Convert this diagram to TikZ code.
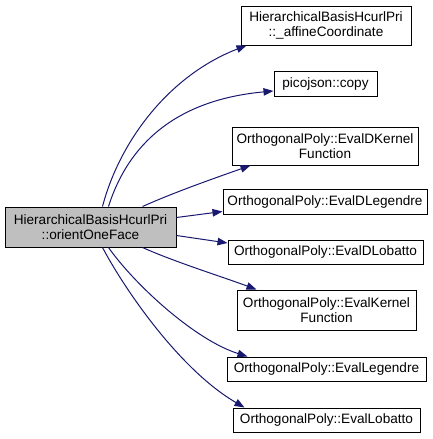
\documentclass[tikz,border=0pt]{standalone}
\usepackage{fontspec}
\setmainfont{Liberation Sans}
\usetikzlibrary{arrows.meta,calc}
\definecolor{edgeblue}{HTML}{191970}
\definecolor{srcgray}{HTML}{BFBFBF}
\tikzset{
  box/.style={draw=black,line width=1pt,rectangle,inner sep=0pt,align=center,
    font=\fontsize{13.6}{15.5}\selectfont,fill=white},
  srcbox/.style={box,fill=srcgray},
  edge/.style={draw=edgeblue,line width=1pt,-{Triangle[length=10pt,width=7.5pt]}}
}
\begin{document}
\begin{tikzpicture}[x=1pt,y=-1pt]
\useasboundingbox (0,0) rectangle (433,439);
\node[srcbox,minimum width=171pt,minimum height=40pt] (src) at (90.5,227) {HierarchicalBasisHcurlPri\\::orientOneFace};
\node[box,minimum width=170pt,minimum height=39pt] (t1) at (326,25.5) {HierarchicalBasisHcurlPri\\::\_affineCoordinate};
\node[box,minimum width=103pt,minimum height=25pt] (t2) at (325.5,84) {picojson::copy};
\node[box,minimum width=186pt,minimum height=38pt] (t3) at (325,146) {OrthogonalPoly::EvalDKernel\\Function};
\node[box,minimum width=204pt,minimum height=25pt] (t4) at (325,201.5) {OrthogonalPoly::EvalDLegendre};
\node[box,minimum width=195pt,minimum height=24pt] (t5) at (325.5,252) {OrthogonalPoly::EvalDLobatto};
\node[box,minimum width=179pt,minimum height=40pt] (t6) at (326.5,310) {OrthogonalPoly::EvalKernel\\Function};
\node[box,minimum width=199pt,minimum height=24pt] (t7) at (326.5,369) {OrthogonalPoly::EvalLegendre};
\node[box,minimum width=187pt,minimum height=24pt] (t8) at (326.5,420) {OrthogonalPoly::EvalLobatto};

\draw[edge] ($(src.north west)+(98,0)$) .. controls (120,140) and (170,75) .. ($(t1.south west)+(6,0)$);
\draw[edge] ($(src.north west)+(104,0)$) .. controls (128,145) and (175,100) .. ($(t2.west)+(0,7)$);
\draw[edge] ($(src.north west)+(138,0)$) .. controls (175,192) and (215,178) .. ($(t3.south west)+(19,0)$);
\draw[edge] ($(src.north east)+(0,11)$) -- ($(t4.west)+(0,10)$);
\draw[edge] ($(src.north east)+(0,29)$) -- ($(t5.west)+(0,-9)$);
\draw[edge] ($(src.south west)+(138,0)$) .. controls (175,262) and (220,276) .. ($(t6.north west)+(20,0)$);
\draw[edge] ($(src.south west)+(104,0)$) .. controls (135,285) and (195,340) .. ($(t7.north west)+(21,0)$);
\draw[edge] ($(src.south west)+(98,0)$) .. controls (125,290) and (180,370) .. ($(t8.north west)+(12,0)$);
\end{tikzpicture}
\end{document}
